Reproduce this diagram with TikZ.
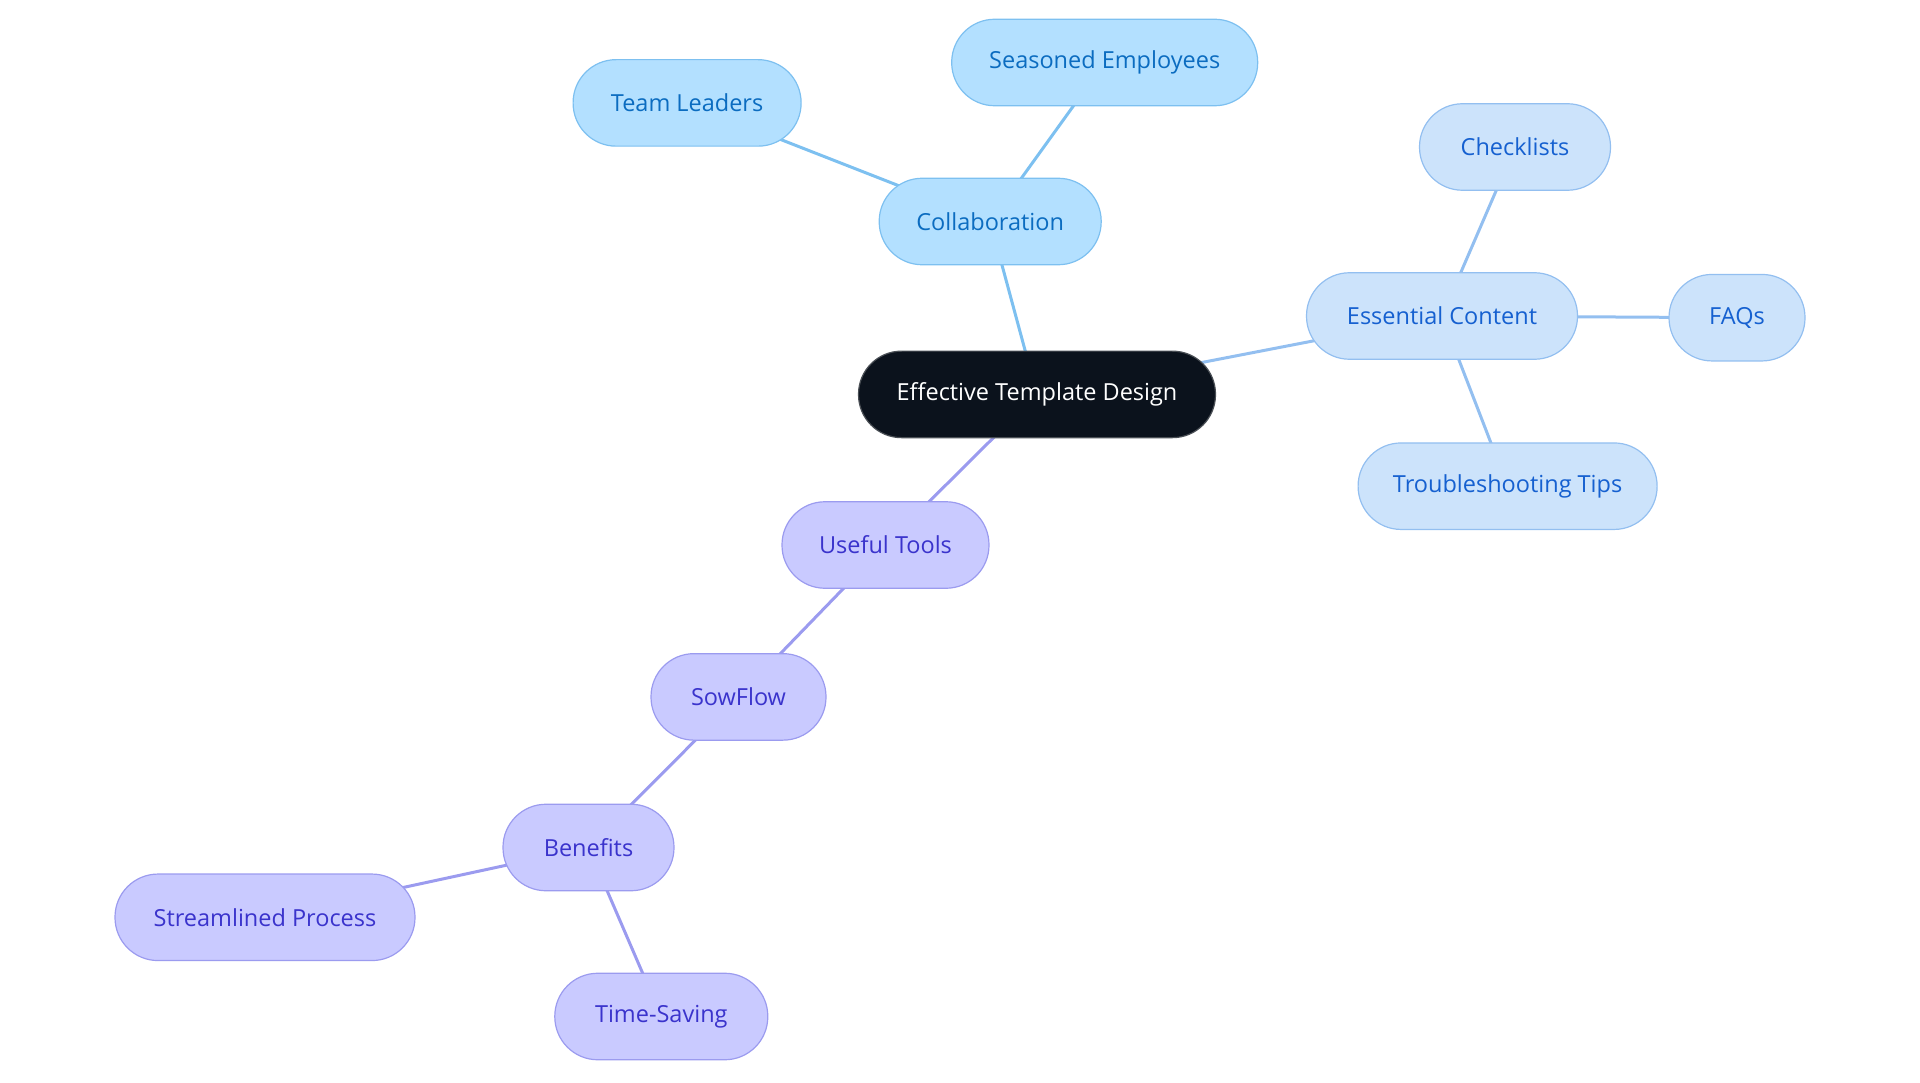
\documentclass[tikz,border=0pt]{standalone}
\usepackage{fontspec}
\setmainfont{Open Sans}
\usetikzlibrary{backgrounds}
\definecolor{rootfill}{HTML}{0B121C}
\definecolor{rootdraw}{HTML}{4A4F55}
\definecolor{cfill}{HTML}{B3E0FF}
\definecolor{cdraw}{HTML}{7DC0F0}
\definecolor{ctext}{HTML}{0B6CC0}
\definecolor{efill}{HTML}{CCE3FB}
\definecolor{edraw}{HTML}{93BFF0}
\definecolor{etext}{HTML}{1560D0}
\definecolor{pfill}{HTML}{C9CAFF}
\definecolor{pdraw}{HTML}{9B9BEF}
\definecolor{ptext}{HTML}{3A33CC}
\tikzset{
  x=1pt, y=-1pt,
  box/.style={draw, line width=1.2pt, rounded corners=43pt, minimum height=86.5pt, inner sep=0pt, align=center, font=\fontsize{23.5}{28}\selectfont},
  rootbox/.style={box, fill=rootfill, draw=rootdraw, text=white},
  cbox/.style={box, fill=cfill, draw=cdraw, text=ctext},
  ebox/.style={box, fill=efill, draw=edraw, text=etext},
  pbox/.style={box, fill=pfill, draw=pdraw, text=ptext},
  cline/.style={draw=cdraw, line width=3pt},
  eline/.style={draw=edraw, line width=3pt},
  pline/.style={draw=pdraw, line width=3pt},
}
\begin{document}
\begin{tikzpicture}
\useasboundingbox (0,0) rectangle (1920,1083);
\node[rootbox, minimum width=357pt] (root) at (1037,394.4) {Effective Template Design};
\node[cbox, minimum width=222pt] (collab) at (990.2,221.5) {Collaboration};
\node[cbox, minimum width=228pt] (team) at (687.1,102.9) {Team Leaders};
\node[cbox, minimum width=306pt] (seasoned) at (1104.7,62.5) {Seasoned Employees};
\node[ebox, minimum width=271pt] (essential) at (1442,316) {Essential Content};
\node[ebox, minimum width=191pt] (check) at (1515,147) {Checklists};
\node[ebox, minimum width=136pt] (faqs) at (1737,317.7) {FAQs};
\node[ebox, minimum width=299pt] (trouble) at (1507.6,486.2) {Troubleshooting Tips};
\node[pbox, minimum width=207pt] (tools) at (885.5,545) {Useful Tools};
\node[pbox, minimum width=175pt] (sowflow) at (738.5,696.9) {SowFlow};
\node[pbox, minimum width=171pt] (benefits) at (588.5,847.5) {Benefits};
\node[pbox, minimum width=300pt] (stream) at (265,917.3) {Streamlined Process};
\node[pbox, minimum width=213pt] (time) at (661.3,1016.5) {Time-Saving};
\begin{scope}[on background layer]
\draw[cline] (root.center) -- (collab.center);
\draw[cline] (collab.center) -- (team.center);
\draw[cline] (collab.center) -- (seasoned.center);
\draw[eline] (root.center) -- (essential.center);
\draw[eline] (essential.center) -- (check.center);
\draw[eline] (essential.center) -- (faqs.center);
\draw[eline] (essential.center) -- (trouble.center);
\draw[pline] (root.center) -- (tools.center);
\draw[pline] (tools.center) -- (sowflow.center);
\draw[pline] (sowflow.center) -- (benefits.center);
\draw[pline] (benefits.center) -- (stream.center);
\draw[pline] (benefits.center) -- (time.center);
\end{scope}
\end{tikzpicture}
\end{document}
